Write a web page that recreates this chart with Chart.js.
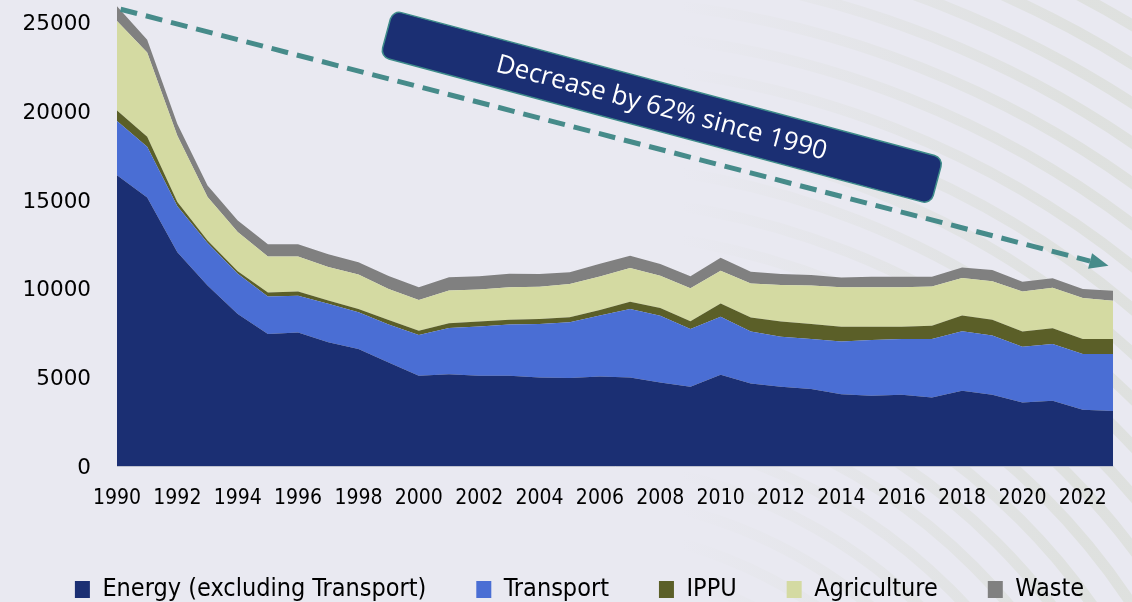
<!DOCTYPE html>
<html>
<head>
<meta charset="utf-8">
<script src="https://cdn.jsdelivr.net/npm/chart.js@4.4.1/dist/chart.umd.min.js"></script>
<style>
html,body{margin:0;padding:0;background:#E9E9F1;overflow:hidden}
#wrap{position:relative;width:1132px;height:602px}
</style>
</head>
<body>
<div id="wrap"><canvas id="c" width="1132" height="602"></canvas></div>
<script>
// ---- data ----
const years = ['1990','1991','1992','1993','1994','1995','1996','1997','1998','1999',
  '2000','2001','2002','2003','2004','2005','2006','2007','2008','2009',
  '2010','2011','2012','2013','2014','2015','2016','2017','2018','2019',
  '2020','2021','2022','2023'];
const energy = [16400,15150,12070,10190,8590,7460,7550,6990,6610,5860,
  5110,5200,5110,5110,5010,4980,5070,5010,4730,4490,
  5160,4670,4490,4360,4070,3980,4040,3890,4260,4040,
  3600,3700,3190,3130];
const transport = [3050,2850,2580,2390,2260,2110,2070,2170,2070,2130,
  2300,2600,2780,2880,3010,3140,3430,3860,3760,3260,
  3270,2930,2820,2820,2970,3140,3140,3290,3350,3330,
  3140,3200,3140,3200];
const ippu = [600,570,250,150,150,230,230,190,190,260,
  240,260,270,280,280,280,320,410,430,430,
  750,790,860,850,830,750,690,750,890,900,
  860,880,850,850];
const agriculture = [5040,4740,3730,2450,2200,2030,1980,1880,1940,1750,
  1730,1850,1810,1820,1820,1880,1880,1900,1820,1860,
  1850,1920,2050,2160,2220,2220,2220,2200,2110,2160,
  2260,2280,2310,2160];
const waste = [830,720,660,640,660,680,680,720,690,730,
  710,750,750,760,720,660,720,690,660,680,
  720,660,620,600,560,600,600,560,590,640,
  550,540,510,560];
const seriesNames = ['Energy (excluding Transport)','Transport','IPPU','Agriculture','Waste'];
const yTicks = [0,5000,10000,15000,20000,25000];
const annotationText = 'Decrease by 62% since 1990';

// ---- styles ----
const colors = ['#1B2F73','#4A6ED4','#5B5F28','#D4DAA2','#808080'];
const BG = '#E9E9F1';

const stripes = {
  id:'stripes',
  beforeDraw(chart){
    const ctx = chart.ctx;
    ctx.save();
    ctx.fillStyle = BG;
    ctx.fillRect(0,0,chart.width,chart.height);
    const g = ctx.createLinearGradient(680,0,1080,0);
    g.addColorStop(0,'rgba(214,218,208,0)');
    g.addColorStop(1,'rgba(214,218,208,0.55)');
    ctx.strokeStyle = g;
    ctx.lineWidth = 11;
    for (let r = 420; r <= 1150; r += 33) {
      ctx.beginPath();
      ctx.arc(560, 980, r, -Math.PI/2, 0);
      ctx.stroke();
    }
    ctx.restore();
  }
};

const annot = {
  id:'annot',
  afterDatasetsDraw(chart){
    const {ctx, scales:{x,y}} = chart;
    ctx.save();
    // arrow
    const x0 = x.getPixelForValue(0.12), y0 = y.getPixelForValue(25750);
    const x1 = x.getPixelForValue(32.85), y1 = y.getPixelForValue(11300);
    const ang = Math.atan2(y1-y0, x1-x0);
    const head = 19, hw = 8;
    const bx = x1 - head*Math.cos(ang), by = y1 - head*Math.sin(ang);
    ctx.strokeStyle = '#468B8A';
    ctx.fillStyle = '#468B8A';
    ctx.lineWidth = 5;
    ctx.setLineDash([17,9]);
    ctx.beginPath(); ctx.moveTo(x0,y0); ctx.lineTo(bx,by); ctx.stroke();
    ctx.setLineDash([]);
    ctx.beginPath();
    ctx.moveTo(x1,y1);
    ctx.lineTo(bx + hw*Math.sin(ang), by - hw*Math.cos(ang));
    ctx.lineTo(bx - hw*Math.sin(ang), by + hw*Math.cos(ang));
    ctx.closePath(); ctx.fill();
    // box
    const cx = x.getPixelForValue(18.05), cy = y.getPixelForValue(20230);
    ctx.translate(cx, cy);
    ctx.rotate(15*Math.PI/180);
    ctx.beginPath();
    ctx.roundRect(-285,-24,570,48,9);
    ctx.fillStyle = '#1B2F73';
    ctx.fill();
    ctx.lineWidth = 1.5;
    ctx.strokeStyle = '#3E8C8A';
    ctx.stroke();
    ctx.fillStyle = '#FFFFFF';
    ctx.font = '26px "Open Sans", sans-serif';
    ctx.textAlign = 'center';
    ctx.textBaseline = 'middle';
    ctx.fillText(annotationText, 0, 1);
    ctx.restore();
  }
};

const shiftLegend = {
  id:'shiftLegend',
  afterLayout(chart){
    if (chart.legend) { chart.legend.left += 23; chart.legend.right += 23; }
  }
};

const seriesData = [energy, transport, ippu, agriculture, waste];
new Chart(document.getElementById('c'), {
  type:'line',
  data:{
    labels: years,
    datasets: seriesData.map((d,i)=>({
      label: seriesNames[i],
      data: d,
      backgroundColor: colors[i],
      borderColor: colors[i],
      borderWidth: 0,
      pointRadius: 0,
      fill: i===0 ? 'origin' : '-1',
      tension: 0
    }))
  },
  options:{
    responsive:false,
    animation:false,
    layout:{padding:{left:0,right:19,top:0,bottom:0}},
    plugins:{
      tooltip:{enabled:false},
      legend:{
        position:'bottom',
        maxHeight:75,
        labels:{
          boxWidth:15, boxHeight:17, padding:50, color:'#000',
          font:{family:'"DejaVu Sans Condensed", "Liberation Sans Narrow", sans-serif', size:25}
        }
      }
    },
    scales:{
      x:{
        offset:false,
        grid:{display:false, drawTicks:false},
        border:{display:true, color:'#D6D6DC', width:1},
        ticks:{
          autoSkip:false, maxRotation:0, minRotation:0, padding:19, color:'#000',
          font:{family:'"DejaVu Sans Condensed", "Liberation Sans Narrow", sans-serif', size:21},
          callback:(v,i)=> i%2===0 ? years[i] : ''
        },
        afterFit:s=>{ s.height = 60.5; }
      },
      y:{
        stacked:true, min:0, max:26270,
        grid:{display:false, drawTicks:false},
        border:{display:false},
        afterBuildTicks:s=>{ s.ticks = yTicks.map(v=>({value:v})); },
        afterFit:s=>{ s.width = 117; s.paddingTop = 0; s.paddingBottom = 0; },
        ticks:{padding:26, labelOffset:2, color:'#000', font:{family:'"DejaVu Sans", sans-serif', size:21.5},
          callback:v=>String(v)}
      }
    }
  },
  plugins:[stripes, annot, shiftLegend]
});
</script>
</body>
</html>
